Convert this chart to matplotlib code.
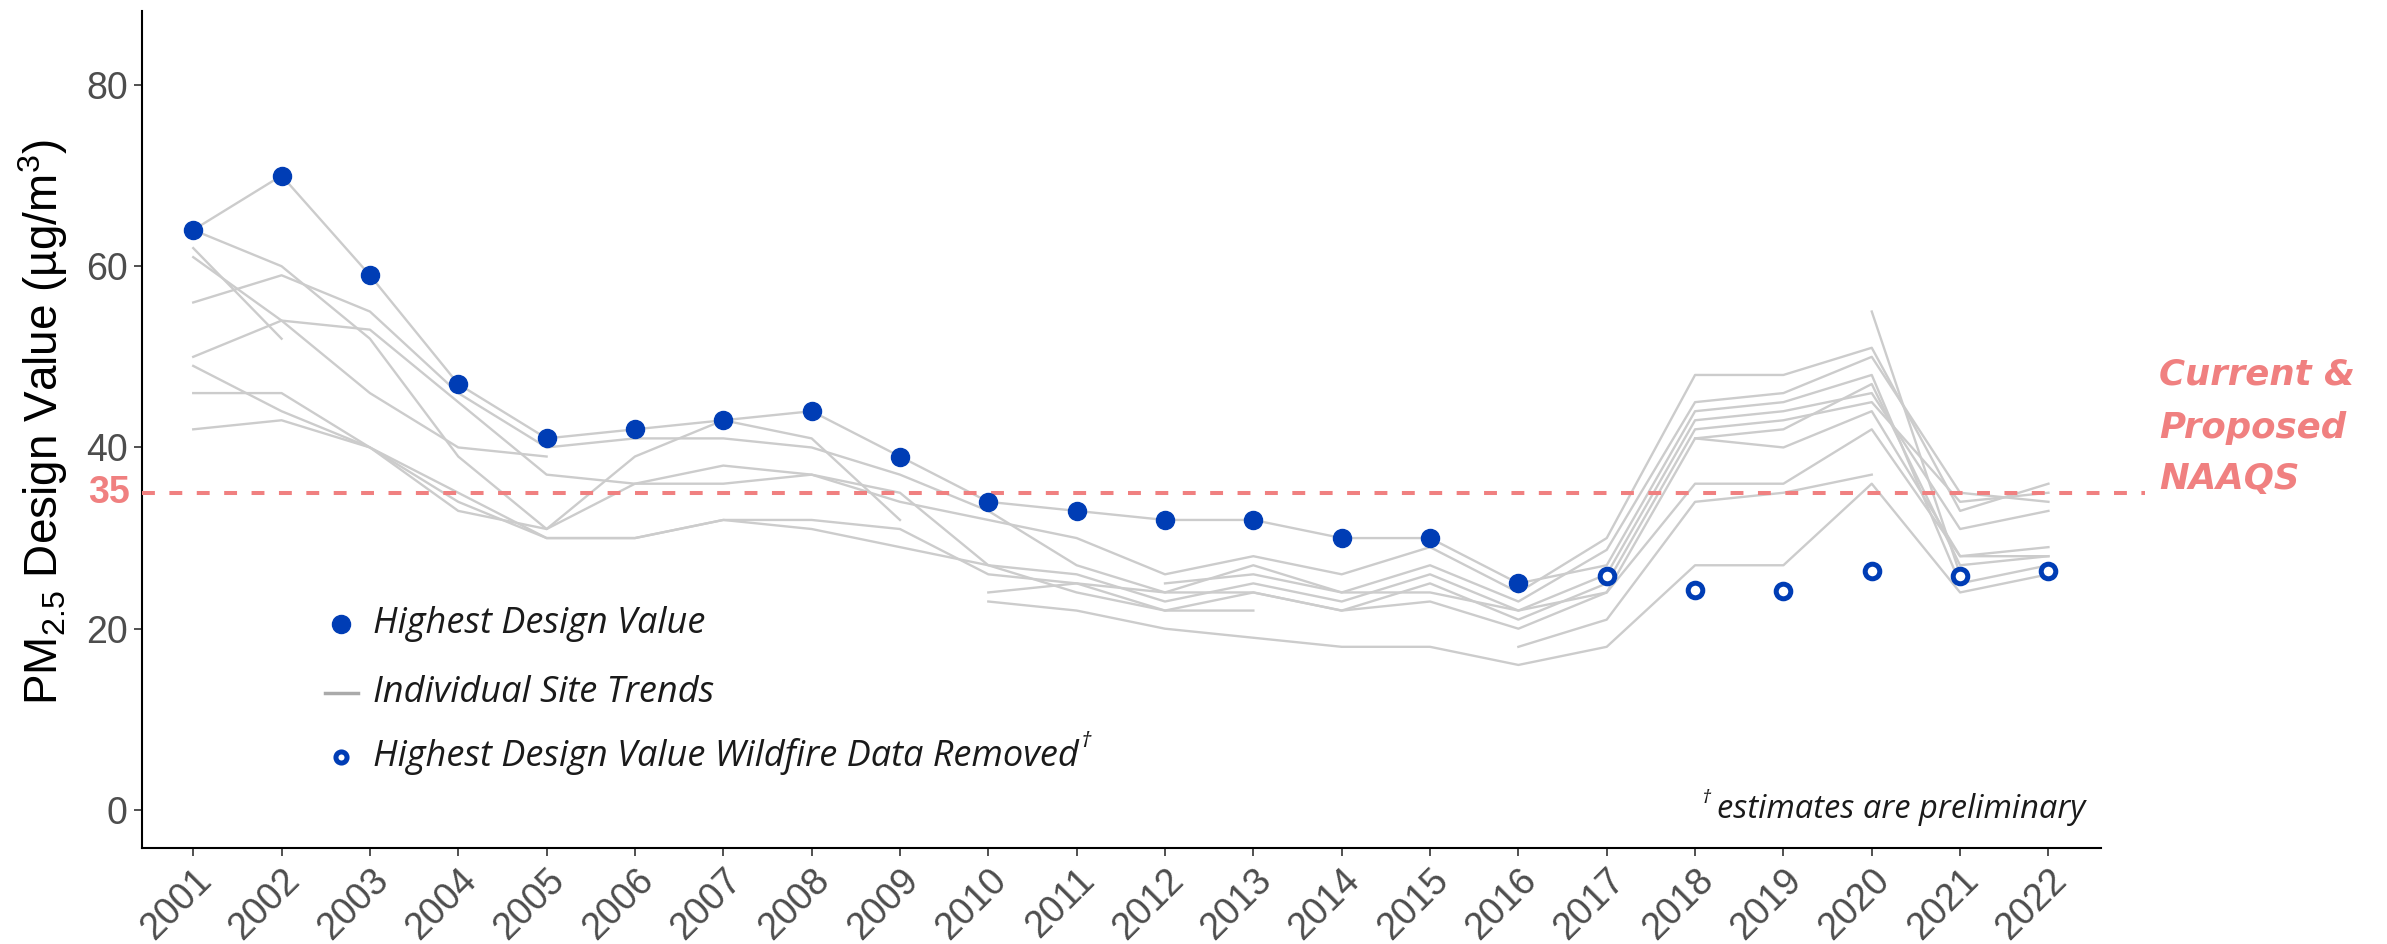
import numpy as np
import matplotlib
matplotlib.use("Agg")
import matplotlib.pyplot as plt

nan = np.nan

# 数据
years = list(range(2001, 2023))

# highest design value (filled), 2001-2016
dv_years = list(range(2001, 2017))
dv_high = [64, 70, 59, 47, 41, 42, 43, 44, 39, 34, 33, 32, 32, 30, 30, 25]

# highest design value with wildfire data removed (open), 2017-2022
wf_years = list(range(2017, 2023))
wf_high = [25.8, 24.3, 24.2, 26.4, 25.8, 26.4]

# individual site trends, 2001-2022 (nan = no data)
site_01 = [64, 70, 59, 47, 41, 42, 43, 44, 39, 34, 33, 32, 32, 30, 30, 25, 27, 44, 45, 48, 25, 27]
site_02 = [64, 60, 52, 39, 31, 36, 38, 37, 34, 32, 30, 26, 28, 26, 29, 24, 30, 48, 48, 51, 33, 36]
site_03 = [62, 52, nan, nan, nan, nan, nan, nan, nan, nan, nan, nan, nan, nan, nan, nan, nan, nan, nan, nan, nan, nan]
site_04 = [61, 54, 46, 40, 39, nan, nan, nan, nan, nan, nan, nan, nan, nan, nan, nan, nan, nan, nan, nan, nan, nan]
site_05 = [56, 59, 55, 46, 40, 41, 41, 40, 37, 33, 27, 24, 27, 24, 27, 23, 28.7, 45, 46, 50, 35, 34]
site_06 = [50, 54, 53, 45, 37, 36, 36, 37, 35, 27, 26, 23, 25, 23, 26, 22, 26, 43, 44, 46, 31, 33]
site_07 = [49, 44, 40, 35, 30, 30, 32, 32, 31, 26, 25, 24, 24, 22, 25, 21, 25, 42, 43, 45, 34, 35]
site_08 = [46, 46, 40, 34, 30, 30, 32, 31, 29, 27, 24, 22, 24, 22, 23, 20, 24, 36, 36, 42, 28, 29]
site_09 = [42, 43, 40, 33, 31, 39, 43, 41, 32, nan, nan, nan, nan, nan, nan, nan, nan, nan, nan, nan, nan, nan]
site_10 = [nan, nan, nan, nan, nan, nan, nan, nan, nan, 24, 25, 22, 22, nan, nan, nan, nan, nan, nan, nan, nan, nan]
site_11 = [nan, nan, nan, nan, nan, nan, nan, nan, nan, 23, 22, 20, 19, 18, 18, 16, 18, 27, 27, 36, 24, 26]
site_12 = [nan, nan, nan, nan, nan, nan, nan, nan, nan, nan, nan, nan, nan, nan, nan, 18, 21, 34, 35, 37, nan, nan]
site_13 = [nan, nan, nan, nan, nan, nan, nan, nan, nan, nan, nan, nan, nan, nan, nan, nan, nan, 41, 40, 44, 28, 28]
site_14 = [nan, nan, nan, nan, nan, nan, nan, nan, nan, nan, nan, nan, nan, nan, nan, nan, nan, nan, nan, 55, 26, nan]
site_15 = [nan, nan, nan, nan, nan, nan, nan, nan, nan, nan, nan, 25, 26, 24, 24, 22, 24, 41, 42, 47, 27, 28]
sites = [site_01, site_02, site_03, site_04, site_05, site_06, site_07, site_08,
         site_09, site_10, site_11, site_12, site_13, site_14, site_15]

naaqs = 35
yticks = [0, 20, 40, 60, 80]

# 样式
blue = "#003DB5"
grey = "#CCCCCC"
red = "#F08080"
tick_grey = "#4D4D4D"

fig = plt.figure(figsize=(23.87, 9.44), dpi=100)
ax = fig.add_axes([0.0593, 0.1017, 0.8207, 0.887])

for s in sites:
    ax.plot(years, s, color=grey, lw=1.7, zorder=2)

ax.plot([2000.415, 2023.09], [naaqs, naaqs], color=red, lw=2.9,
        dashes=(3.2, 3.6), clip_on=False, zorder=3)

ax.plot(dv_years, dv_high, "o", color=blue, ms=13, mec=blue, zorder=4)
ax.plot(wf_years, wf_high, "o", mfc="white", mec=blue, mew=3.6, ms=10.5, zorder=4)

ax.set_xlim(2000.415, 2022.59)
ax.set_ylim(-4.2, 88.2)
ax.set_xticks(years)
ax.set_xticklabels([str(y) for y in years], rotation=45, ha="right",
                   rotation_mode="anchor", fontsize=27, color=tick_grey,
                   family="Liberation Sans")
ax.set_yticks(yticks)
ax.set_yticklabels([str(v) for v in yticks], fontsize=27, color=tick_grey,
                   family="Liberation Sans")
ax.tick_params(axis="both", length=6, width=1.2, color="#333333")
ax.tick_params(axis="y", pad=4)
ax.tick_params(axis="x", pad=4)
for side in ["top", "right"]:
    ax.spines[side].set_visible(False)
for side in ["left", "bottom"]:
    ax.spines[side].set_linewidth(1.5)

# red 35 label on the y axis
ax.text(-0.006, naaqs, "35", transform=ax.get_yaxis_transform(), ha="right",
        va="center", fontsize=27, fontweight="bold", color=red,
        family="Liberation Sans")

# y label
plt.rcParams["mathtext.fontset"] = "custom"
plt.rcParams["mathtext.rm"] = "Liberation Sans"
plt.rcParams["mathtext.it"] = "Liberation Sans:italic"
fig.text(0.018, 0.553, "PM$_{2.5}$ Design Value (µg/m$^3$)", rotation=90,
         ha="center", va="center", fontsize=33, family="Liberation Sans")

# legend (hand drawn)
leg_font = dict(fontsize=26, style="italic", weight="normal", family="Open Sans",
                color="#1A1A1A", va="center", ha="left", transform=ax.transAxes)
ax.plot([0.1018], [0.2675], "o", color=blue, ms=13, transform=ax.transAxes, clip_on=False)
ax.text(0.1181, 0.2675, "Highest Design Value", **leg_font)
ax.plot([0.0935, 0.1105], [0.185, 0.185], color="#AAAAAA", lw=2.5,
        transform=ax.transAxes, clip_on=False)
ax.text(0.1181, 0.185, "Individual Site Trends", **leg_font)
ax.plot([0.1018], [0.1087], "o", mfc="white", mec=blue, mew=3.6, ms=8,
        transform=ax.transAxes, clip_on=False)
wild = ax.text(0.1181, 0.1087, "Highest Design Value Wildfire Data Removed", **leg_font)

# dagger as a small raised mark after the last legend label
fig.canvas.draw()
bb = wild.get_window_extent().transformed(ax.transAxes.inverted())
ax.text(bb.x1 + 0.001, 0.1087 + 0.018, "†", fontsize=16, style="italic",
        family="Open Sans", color="#1A1A1A", va="center", ha="left",
        transform=ax.transAxes)

foot = ax.text(0.9923, 0.0454, "estimates are preliminary", fontsize=23.5,
               style="italic", weight="normal", family="Open Sans", color="#1A1A1A",
               ha="right", va="center", transform=ax.transAxes)
fig.canvas.draw()
fb = foot.get_window_extent().transformed(ax.transAxes.inverted())
ax.text(fb.x0 - 0.003, 0.0454 + 0.014, "†", fontsize=14, style="italic",
        family="Open Sans", color="#1A1A1A", va="center", ha="right",
        transform=ax.transAxes)

# NAAQS annotation
for txt, yy in [("Current &", 0.6038), ("Proposed", 0.5466), ("NAAQS", 0.4926)]:
    fig.text(0.9045, yy, txt, fontsize=25.6, fontweight="bold", style="oblique",
             color=red, family="DejaVu Sans", ha="left", va="center")

fig.savefig("out.png", dpi=100)
